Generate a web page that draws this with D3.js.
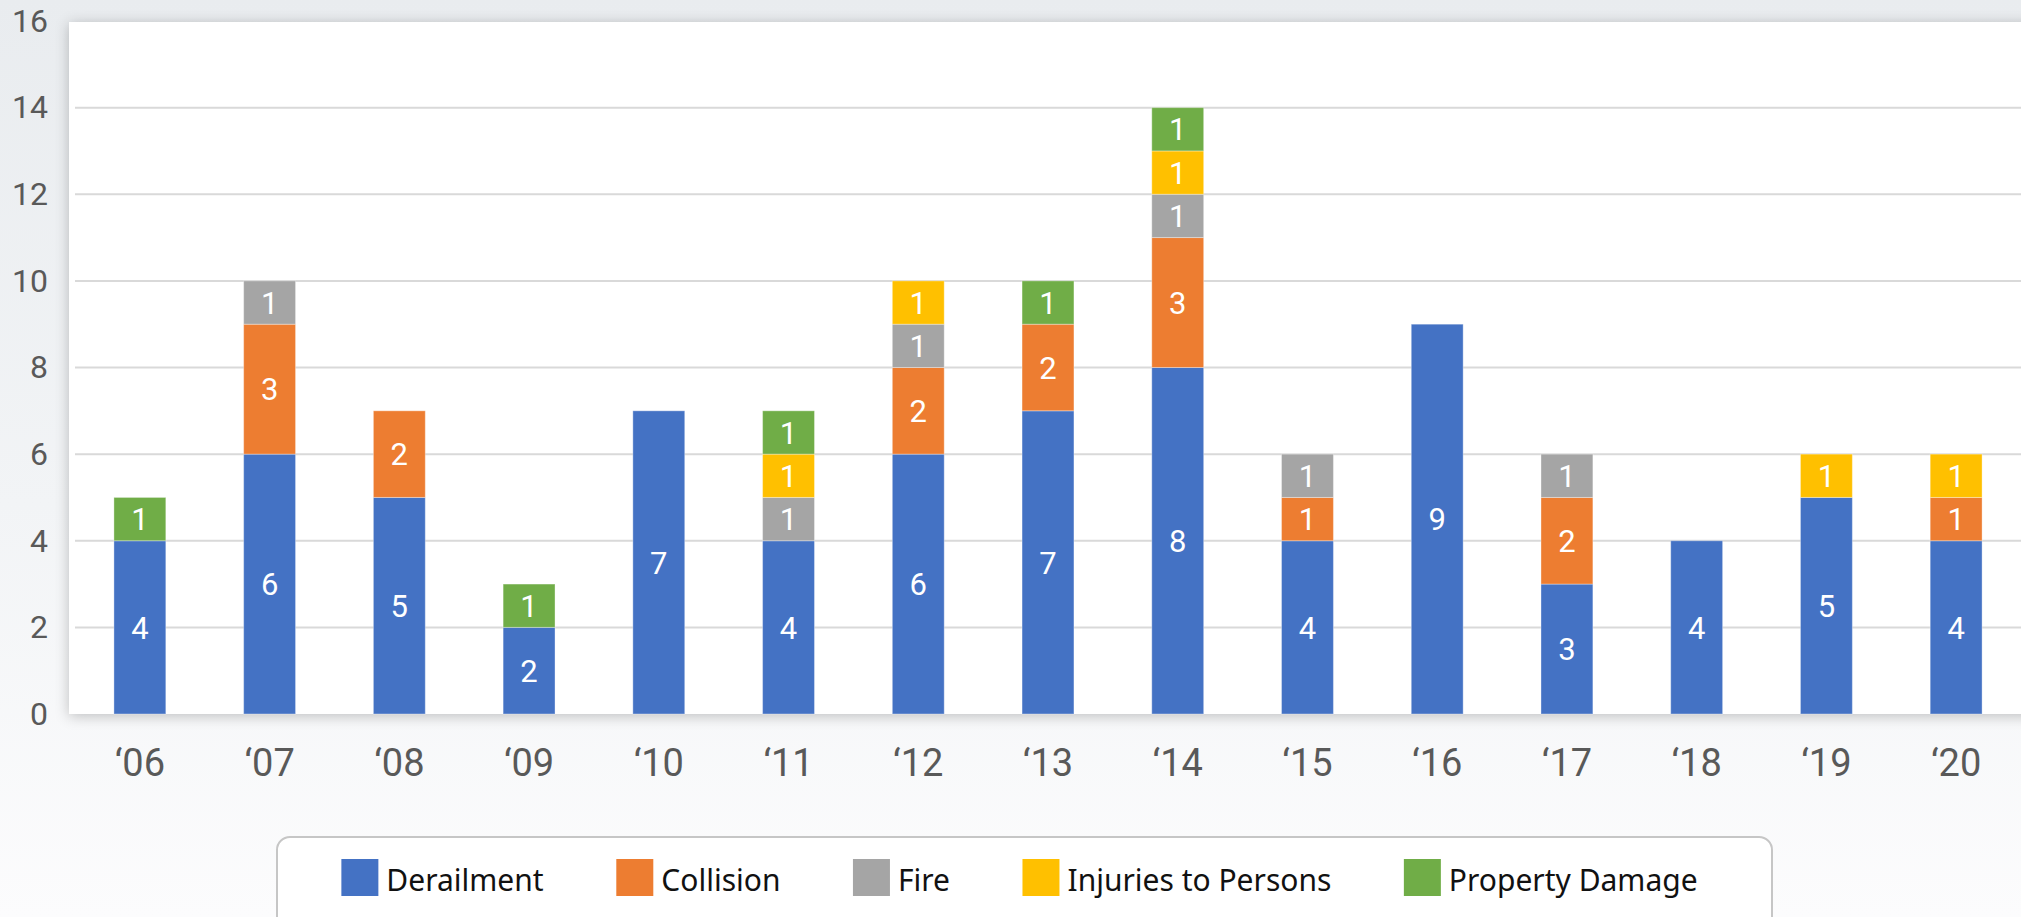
<!DOCTYPE html>
<html>
<head>
<meta charset="utf-8">
<script src="https://cdn.jsdelivr.net/npm/d3@7"></script>
<style>
  html, body { margin: 0; padding: 0; background: #fafbfc; }
  svg { display: block; }
</style>
</head>
<body>
<div id="chart"></div>
<script>
const width = 2021;
const height = 917;

// data
const years = ['‘06', '‘07', '‘08', '‘09', '‘10', '‘11', '‘12', '‘13', '‘14', '‘15', '‘16', '‘17', '‘18', '‘19', '‘20'];
const seriesNames = ['Derailment', 'Collision', 'Fire', 'Injuries to Persons', 'Property Damage'];
const derailment = [4, 6, 5, 2, 7, 4, 6, 7, 8, 4, 9, 3, 4, 5, 4];
const collision  = [0, 3, 2, 0, 0, 0, 2, 2, 3, 1, 0, 2, 0, 0, 1];
const fire       = [0, 1, 0, 0, 0, 1, 1, 0, 1, 1, 0, 1, 0, 0, 0];
const injuries   = [0, 0, 0, 0, 0, 1, 1, 0, 1, 0, 0, 0, 0, 1, 1];
const property   = [1, 0, 0, 1, 0, 1, 0, 1, 1, 0, 0, 0, 0, 0, 0];
const yTicks = [0, 2, 4, 6, 8, 10, 12, 14, 16];

const colors = ['#4472C4', '#ED7D31', '#A5A5A5', '#FFC000', '#70AD47'];

const rows = years.map((yr, i) => ({
  year: yr,
  'Derailment': derailment[i],
  'Collision': collision[i],
  'Fire': fire[i],
  'Injuries to Persons': injuries[i],
  'Property Damage': property[i]
}));

const svg = d3.select('#chart')
  .append('svg')
  .attr('width', width)
  .attr('height', height);

const defs = svg.append('defs');

const bg = defs.append('linearGradient')
  .attr('id', 'bg')
  .attr('x1', 0).attr('y1', 0).attr('x2', 0).attr('y2', 1);
bg.append('stop').attr('offset', '0%').attr('stop-color', '#e9ecef');
bg.append('stop').attr('offset', '55%').attr('stop-color', '#f2f4f6');
bg.append('stop').attr('offset', '100%').attr('stop-color', '#fcfcfd');

const shadow = defs.append('filter')
  .attr('id', 'shadow')
  .attr('x', '-5%').attr('y', '-10%')
  .attr('width', '110%').attr('height', '120%');
shadow.append('feDropShadow')
  .attr('dx', 0).attr('dy', 2)
  .attr('stdDeviation', 7)
  .attr('flood-color', '#000')
  .attr('flood-opacity', 0.24);

svg.append('rect')
  .attr('width', width)
  .attr('height', height)
  .attr('fill', 'url(#bg)');

// white plot panel
svg.append('rect')
  .attr('x', 69)
  .attr('y', 22)
  .attr('width', width + 40)
  .attr('height', 692)
  .attr('fill', '#fff')
  .attr('filter', 'url(#shadow)');

const x = d3.scaleBand()
  .domain(years)
  .range([75, 2021])
  .paddingInner(0.6)
  .paddingOuter(0.3);

const y = d3.scaleLinear()
  .domain([0, 16])
  .range([714, 21]);

// gridlines
svg.append('g')
  .selectAll('line')
  .data(yTicks.filter(t => t > 0 && t < 16))
  .enter()
  .append('line')
  .attr('x1', 75)
  .attr('x2', width)
  .attr('y1', d => y(d))
  .attr('y2', d => y(d))
  .attr('stroke', '#d9d9d9')
  .attr('stroke-width', 2);

const stacked = d3.stack().keys(seriesNames)(rows);

const layer = svg.append('g')
  .selectAll('g')
  .data(stacked)
  .enter()
  .append('g')
  .attr('fill', (d, i) => colors[i]);

layer.selectAll('rect')
  .data(d => d.filter(s => s[1] - s[0] > 0))
  .enter()
  .append('rect')
  .attr('x', d => x(d.data.year))
  .attr('y', d => y(d[1]))
  .attr('width', x.bandwidth())
  .attr('height', d => y(d[0]) - y(d[1]))
  .attr('stroke', '#fff')
  .attr('stroke-opacity', 0.35)
  .attr('stroke-width', 1);

layer.selectAll('text')
  .data(d => d.filter(s => s[1] - s[0] > 0))
  .enter()
  .append('text')
  .attr('x', d => x(d.data.year) + x.bandwidth() / 2)
  .attr('y', d => y((d[0] + d[1]) / 2))
  .attr('dy', '0.36em')
  .attr('text-anchor', 'middle')
  .attr('fill', '#fff')
  .attr('font-family', 'Roboto, sans-serif')
  .attr('font-size', '31px')
  .text(d => d[1] - d[0]);

// y axis labels
const yAxis = svg.append('g')
  .attr('transform', 'translate(48,0)')
  .call(d3.axisLeft(y).tickValues(yTicks).tickSize(0).tickPadding(0));
yAxis.select('.domain').remove();
yAxis.selectAll('text')
  .attr('fill', '#595959')
  .attr('font-family', 'Roboto, sans-serif')
  .attr('font-size', '32px');

// x axis labels
const xAxis = svg.append('g')
  .attr('transform', 'translate(0,714)')
  .call(d3.axisBottom(x).tickSize(0).tickPadding(35));
xAxis.select('.domain').remove();
xAxis.selectAll('text')
  .attr('fill', '#595959')
  .attr('font-family', 'Roboto, sans-serif')
  .attr('font-size', '38px');

// legend
const legendBox = { x: 277, y: 837, w: 1495, h: 120 };
svg.append('rect')
  .attr('x', legendBox.x)
  .attr('y', legendBox.y)
  .attr('width', legendBox.w)
  .attr('height', legendBox.h)
  .attr('rx', 13)
  .attr('fill', '#fff')
  .attr('stroke', '#c6c6c6')
  .attr('stroke-width', 2);

const legend = svg.append('g');
const items = legend.selectAll('g')
  .data(seriesNames)
  .enter()
  .append('g');

items.append('rect')
  .attr('width', 37)
  .attr('height', 37)
  .attr('y', 859)
  .attr('fill', (d, i) => colors[i]);

items.append('text')
  .attr('x', 45)
  .attr('y', 891)
  .attr('fill', '#111')
  .attr('font-family', '"Noto Sans", sans-serif')
  .attr('font-size', '30px')
  .text(d => d);

// lay items out side by side, centred in the box
const gap = 72.5;
const widths = [];
items.each(function () { widths.push(this.getBBox().width); });
const total = d3.sum(widths) + gap * (widths.length - 1);
let cursor = legendBox.x + legendBox.w / 2 - total / 2 - 5;
items.attr('transform', (d, i) => {
  const t = `translate(${cursor},0)`;
  cursor += widths[i] + gap;
  return t;
});
</script>
</body>
</html>
